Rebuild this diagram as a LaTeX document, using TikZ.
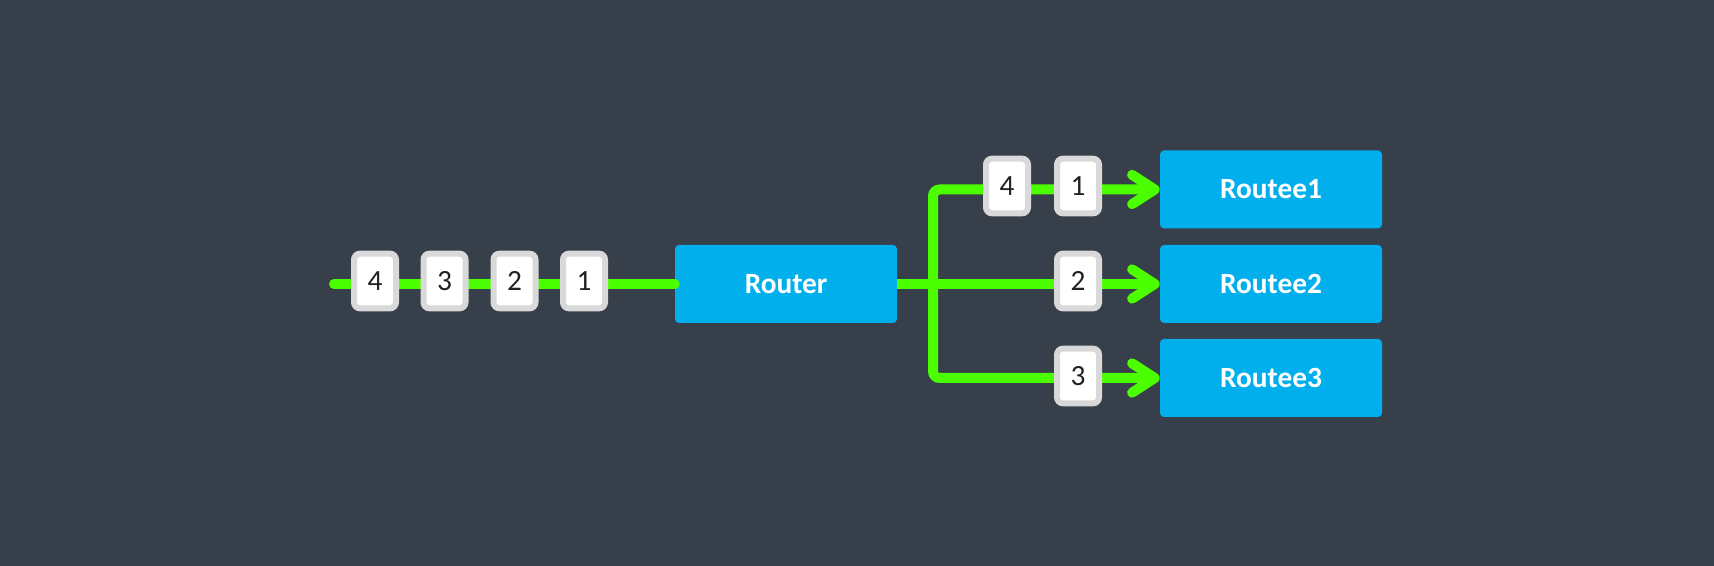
\documentclass[tikz,border=0pt]{standalone}
\usepackage{fontspec}
\setmainfont{Carlito}
\usetikzlibrary{arrows.meta}
\definecolor{bg}{HTML}{373F4A}
\definecolor{boxblue}{HTML}{02AFED}
\definecolor{flowgreen}{HTML}{4CFF00}
\definecolor{msgedge}{HTML}{D9D9D9}
\definecolor{msgtext}{HTML}{222222}
\tikzset{
  unit/.style={x=0.75pt,y=-0.75pt},
  actor/.style={fill=boxblue, draw=none, rounded corners=3pt, minimum width=166.5pt, minimum height=58.5pt, inner sep=0pt, text=white, font=\fontsize{22}{24}\selectfont\bfseries},
  msg/.style={fill=white, draw=msgedge, line width=4.5pt, rounded corners=4.5pt, minimum width=31.5pt, minimum height=41pt, inner sep=0pt, text=msgtext, font=\fontsize{22}{24}\selectfont},
  flow/.style={draw=flowgreen, line width=7.5pt},
  tip/.style={-{Straight Barb[length=17pt,width=22pt,line cap=round,line join=round]}},
}
\begin{document}
\begin{tikzpicture}[unit]
\fill[bg] (0,0) rectangle (1714,566);
\useasboundingbox (0,0) rectangle (1714,566);
% actors
\node[actor] (router) at (786,284) {Router};
\node[actor] (r1) at (1271,189.5) {Routee1};
\node[actor] (r2) at (1271,284) {Routee2};
\node[actor] (r3) at (1271,378) {Routee3};
% connectors
\coordinate (src) at (334,284);
\coordinate (jc) at (933,284);
\draw[flow, line cap=round] (src) -- (router.west);
\draw[flow, tip] (router.east) -- (r2.west);
\draw[flow, tip, rounded corners=5pt] (jc) |- (r1.west);
\draw[flow, tip, rounded corners=5pt] (jc) |- (r3.west);
% messages
\node[msg] (m4) at (375,281) {4};
\node[msg] (m3) at (444.5,281) {3};
\node[msg] (m2) at (514.5,281) {2};
\node[msg] (m1) at (584,281) {1};
\node[msg] (t4) at (1007,186) {4};
\node[msg] (t1) at (1078,186) {1};
\node[msg] (b2) at (1078,281) {2};
\node[msg] (b3) at (1078,376) {3};
\end{tikzpicture}
\end{document}
